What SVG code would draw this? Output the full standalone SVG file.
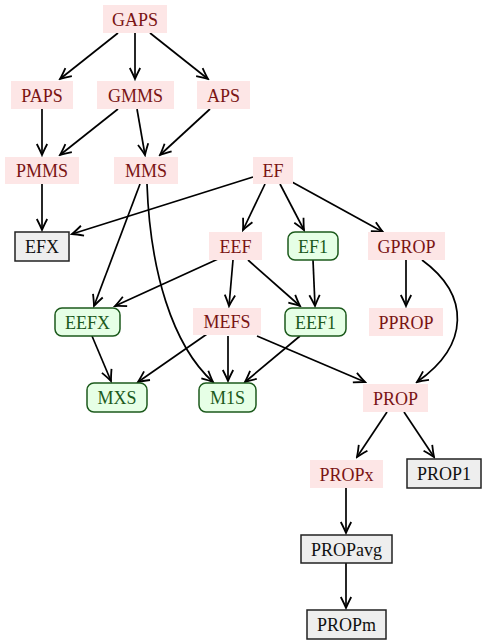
<svg xmlns="http://www.w3.org/2000/svg" width="486" height="644" viewBox="0 0 486 644">
<style>
.n text{font-family:"Liberation Serif","Times New Roman","DejaVu Serif",serif;font-size:18px;text-anchor:middle}
.p rect{fill:#fde6e6;stroke:none}
.p text{fill:#7a1414}
.g rect{fill:#e6ffe6;stroke:#1c5a1c;stroke-width:1.5}
.g text{fill:#1c5a1c}
.x rect{fill:#eeeeee;stroke:#222;stroke-width:1.5}
.x text{fill:#111}
#edges path{fill:none;stroke:#000;stroke-width:1.7;marker-end:url(#ah)}
</style>
<defs>
<marker id="ah" markerUnits="userSpaceOnUse" viewBox="-12 -7 14 14" refX="0" refY="0" markerWidth="14" markerHeight="14" orient="auto">
<path d="M-11,-5.2 Q-4,-1.6 0,0 Q-4,1.6 -11,5.2" fill="none" stroke="#000" stroke-width="1.8"/>
</marker>
</defs>
<g id="edges">
<path d="M118,33 L60,79"/>
<path d="M135,33 L135,79"/>
<path d="M150,33 L208,79"/>
<path d="M42,109 L42,155"/>
<path d="M118,109 L60,155"/>
<path d="M137,109 L145,155"/>
<path d="M210,109 L160,155"/>
<path d="M42,184 L42,230"/>
<path d="M253,177 L72,234"/>
<path d="M140,184 L94,306"/>
<path d="M147,184 C150,270 172,345 213,382"/>
<path d="M265,184 L243,230"/>
<path d="M280,184 L304,230"/>
<path d="M292,182 L383,232"/>
<path d="M218,259 L115,306"/>
<path d="M233,260 L229,306"/>
<path d="M248,260 L300,306"/>
<path d="M313,260 L315,306"/>
<path d="M406,260 L406,306"/>
<path d="M422,260 C470,295 470,345 417,382"/>
<path d="M92,336 L111,381"/>
<path d="M207,334 L138,382"/>
<path d="M228,336 L228,381"/>
<path d="M300,336 L245,382"/>
<path d="M257,336 L365,382"/>
<path d="M387,412 L357,457"/>
<path d="M404,412 L434,457"/>
<path d="M346,488 L346,533"/>
<path d="M346,563 L346,608"/>
</g>
<g font-family="Liberation Serif, Times New Roman, serif">
<g id="GAPS" class="n p"><rect x="103" y="5" width="64" height="28"/><text x="135" y="25.5">GAPS</text></g>
<g id="PAPS" class="n p"><rect x="11" y="81" width="62" height="28"/><text x="42" y="101.5">PAPS</text></g>
<g id="GMMS" class="n p"><rect x="97" y="81" width="77" height="28"/><text x="135.5" y="101.5">GMMS</text></g>
<g id="APS" class="n p"><rect x="197" y="81" width="53" height="28"/><text x="223.5" y="101.5">APS</text></g>
<g id="PMMS" class="n p"><rect x="5" y="157" width="74" height="27"/><text x="42" y="177">PMMS</text></g>
<g id="MMS" class="n p"><rect x="114" y="157" width="64" height="27"/><text x="146" y="177">MMS</text></g>
<g id="EF" class="n p"><rect x="253" y="157" width="40" height="27"/><text x="273" y="177">EF</text></g>
<g id="EFX" class="n x"><rect x="15" y="232" width="54" height="29"/><text x="42" y="253">EFX</text></g>
<g id="EEF" class="n p"><rect x="209" y="232" width="53" height="28"/><text x="235.5" y="252.5">EEF</text></g>
<g id="EF1" class="n g"><rect x="288" y="232" width="50" height="28" rx="7"/><text x="313" y="252.5">EF1</text></g>
<g id="GPROP" class="n p"><rect x="368" y="232" width="77" height="28"/><text x="406.5" y="252.5">GPROP</text></g>
<g id="EEFX" class="n g"><rect x="55" y="308" width="65" height="28" rx="7"/><text x="87.5" y="328.5">EEFX</text></g>
<g id="MEFS" class="n p"><rect x="193" y="308" width="68" height="27"/><text x="227" y="328">MEFS</text></g>
<g id="EEF1" class="n g"><rect x="285" y="308" width="61" height="28" rx="7"/><text x="315.5" y="328.5">EEF1</text></g>
<g id="PPROP" class="n p"><rect x="369" y="308" width="74" height="28"/><text x="406" y="328.5">PPROP</text></g>
<g id="MXS" class="n g"><rect x="87" y="383" width="60" height="29" rx="7"/><text x="117" y="404">MXS</text></g>
<g id="M1S" class="n g"><rect x="199" y="383" width="57" height="29" rx="7"/><text x="227.5" y="404">M1S</text></g>
<g id="PROP" class="n p"><rect x="363" y="384" width="65" height="28"/><text x="395.5" y="404.5">PROP</text></g>
<g id="PROPx" class="n p"><rect x="310" y="460" width="73" height="28"/><text x="346.5" y="480.5">PROPx</text></g>
<g id="PROP1" class="n x"><rect x="407" y="459" width="74" height="29"/><text x="444" y="480">PROP1</text></g>
<g id="PROPavg" class="n x"><rect x="301" y="535" width="91" height="28"/><text x="346.5" y="555.5">PROPavg</text></g>
<g id="PROPm" class="n x"><rect x="307" y="610" width="79" height="29"/><text x="346.5" y="631">PROPm</text></g>
</g>
</svg>
